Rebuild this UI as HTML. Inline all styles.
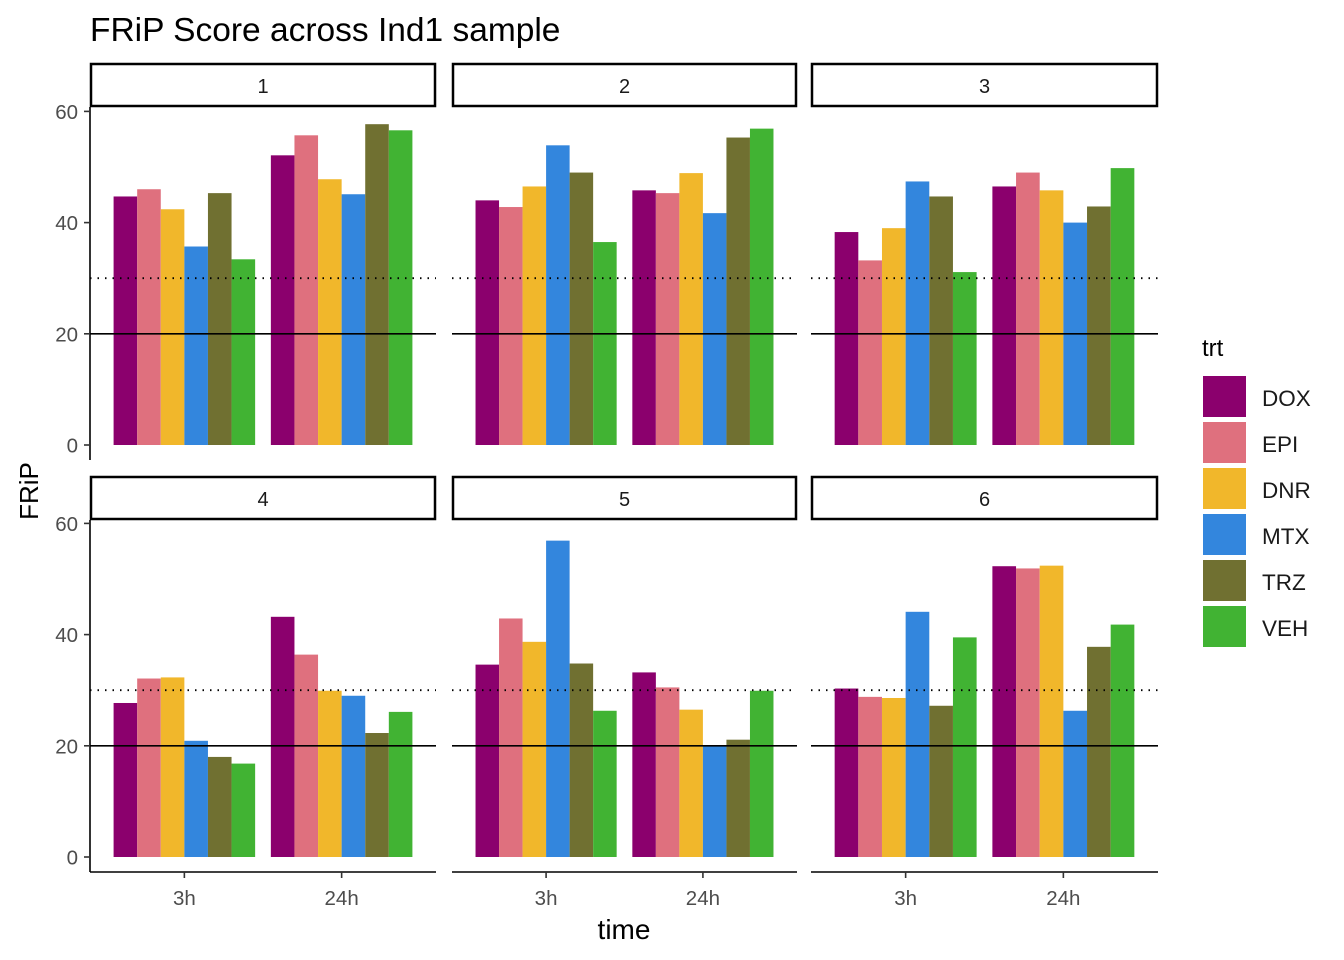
<!DOCTYPE html>
<html><head><meta charset="utf-8"><style>body{margin:0;background:#fff}svg{display:block;font-family:"Liberation Sans",Arial,sans-serif}</style></head>
<body>
<svg id="chart" width="1344" height="960" xmlns="http://www.w3.org/2000/svg">
<rect width="1344" height="960" fill="#fff"/>
<text x="90" y="41" font-size="33.5" fill="#000">FRiP Score across Ind1 sample</text>
<text transform="translate(38,491) rotate(-90)" text-anchor="middle" font-size="26">FRiP</text>
<text x="624" y="939" text-anchor="middle" font-size="28">time</text>
<g id="panels"></g>
<g id="legend"></g>
</svg>
<script>
const facets=["1","2","3","4","5","6"];
const times=["3h","24h"];
const trts=["DOX","EPI","DNR","MTX","TRZ","VEH"];
const colors=["#8B006D","#DF707E","#F1B72B","#3386DD","#707031","#41B333"];
const yTicks=[0,20,40,60];
// values[facet][time][trt]
const f1=[[44.7,46,42.4,35.7,45.3,33.4],[52.1,55.7,47.8,45.1,57.7,56.6]];
const f2=[[44,42.8,46.5,53.9,49,36.5],[45.8,45.3,48.9,41.7,55.3,56.9]];
const f3=[[38.3,33.2,39,47.4,44.7,31.1],[46.5,49,45.8,40,42.9,49.8]];
const f4=[[27.7,32.1,32.3,20.9,18,16.8],[43.2,36.4,29.9,29,22.3,26.1]];
const f5=[[34.6,42.9,38.7,56.9,34.8,26.3],[33.2,30.5,26.5,20,21.1,29.9]];
const f6=[[30.3,28.8,28.6,44.1,27.2,39.5],[52.3,51.9,52.4,26.3,37.8,41.8]];
const values=[f1,f2,f3,f4,f5,f6];
const solidLine=20, dottedLine=30;

const NS="http://www.w3.org/2000/svg";
function mk(tag,attrs,parent,txt){const e=document.createElementNS(NS,tag);for(const k in attrs)e.setAttribute(k,attrs[k]);if(txt!==undefined)e.textContent=txt;parent.appendChild(e);return e;}
const panelsG=document.getElementById('panels');
const colX=[[90,436],[452,797],[811,1158]];
const rowY=[{strip:63,top:107,bottom:460,zero:445},{strip:476,top:520,bottom:872,zero:857}];
const pxPerUnit=5.56;
facets.forEach((f,i)=>{
  const c=i%3,r=Math.floor(i/3);
  const [x0,x1]=colX[c];const R=rowY[r];
  const w=x1-x0;
  const y=v=>R.zero-v*pxPerUnit;
  const xCat=k=>x0+(0.6+k)*w/2.2;
  const g=mk('g',{},panelsG);
  
  
  const st=mk('rect',{x:x0+1,y:R.strip+1,width:w-2,height:42,fill:'#fff',stroke:'#000','stroke-width':2.5},g);
  
  const stt=mk('text',{x:(x0+x1)/2,y:R.strip+30,'text-anchor':'middle','font-size':20,fill:'#1a1a1a'},g,f);
  
  const bw=w/2.2*0.9/6;
  times.forEach((t,ti)=>{
    trts.forEach((tr,k)=>{
      const v=values[i][ti][k];
      const bx=xCat(ti)-w/2.2*0.45+k*bw;
      const b=mk('rect',{x:bx,y:y(v),width:bw,height:y(0)-y(v),fill:colors[k]},g);
      
      
    });
  });
  const hl=mk('line',{x1:x0,x2:x1,y1:y(solidLine),y2:y(solidLine),stroke:'#000','stroke-width':1.6},g);
  
  const dl=mk('line',{x1:x0,x2:x1,y1:y(dottedLine),y2:y(dottedLine),stroke:'#000','stroke-width':1.8,'stroke-dasharray':'1.5 6'},g);
  
  if(c===0){
    const ax=mk('line',{x1:x0,x2:x0,y1:R.top,y2:R.bottom,stroke:'#000','stroke-width':1.6},g);
    
    yTicks.forEach(tv=>{
      mk('line',{x1:x0-6,x2:x0,y1:y(tv),y2:y(tv),stroke:'#333','stroke-width':1.6},g);
      const tl=mk('text',{x:x0-12,y:y(tv)+7.5,'text-anchor':'end','font-size':20.5,fill:'#4d4d4d'},g,tv);
      
    });
  }
  if(r===1){
    const ax=mk('line',{x1:x0,x2:x1,y1:R.bottom,y2:R.bottom,stroke:'#000','stroke-width':1.6},g);
    
    times.forEach((t,ti)=>{
      mk('line',{x1:xCat(ti),x2:xCat(ti),y1:R.bottom,y2:R.bottom+6,stroke:'#333','stroke-width':1.6},g);
      const tl=mk('text',{x:xCat(ti),y:R.bottom+33,'text-anchor':'middle','font-size':20.5,fill:'#4d4d4d'},g,t);
      
    });
  }
});
const lg=document.getElementById('legend');

const lt=mk('text',{x:1202,y:356,'font-size':24},lg,'trt');

trts.forEach((tr,k)=>{
  const yy=376+k*46;
  const kk=mk('rect',{x:1203,y:yy,width:43,height:41,fill:colors[k]},lg);
  
  const tx=mk('text',{x:1262,y:yy+30,'font-size':22.5,fill:'#1a1a1a'},lg,tr);
  
});
</script>
</body></html>
